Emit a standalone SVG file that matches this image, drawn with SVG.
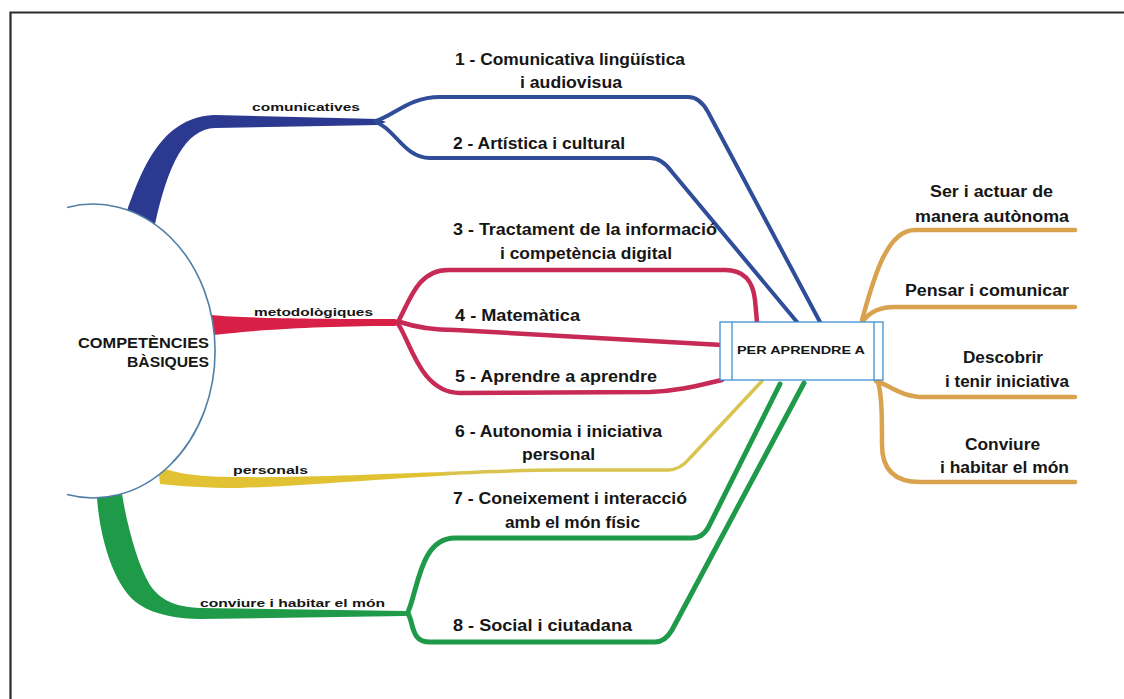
<svg xmlns="http://www.w3.org/2000/svg" width="1124" height="699" viewBox="0 0 1124 699">
<style>
text{font-family:"Liberation Sans",Arial,sans-serif;font-weight:bold;fill:#161616}
.leaf{font-size:16px}
.lab{font-size:11.5px}
.ln{fill:none;stroke-linecap:round;stroke-linejoin:round}
.blue{stroke:#2f4d98;stroke-width:4}
.red{stroke:#c62a55;stroke-width:4.5}
.yel{stroke:#d8c44e;stroke-width:3.5}
.grn{stroke:#1f9a4b;stroke-width:5}
.org{stroke:#d9a24f;stroke-width:4.5}
</style>
<rect width="1124" height="699" fill="#ffffff"/>
<path d="M10.5,699 V12.5 H1124" fill="none" stroke="#2a2a2a" stroke-width="2.2"/>

<g id="connectors">
  <!-- trunks -->
  <path d="M127,211 C145,160 165,117 215,115 L378,119 L386,122 L378,125 L215,128 C185,129 168,165 155,224 Z" fill="#2b3990"/>
  <path d="M212,315 C240,318 300,319 395,319 L403,322 L395,326 C300,326 240,332 212,335 Z" fill="#d81f45"/>
  <path d="M158,466 C175,474 200,477 240,477 C300,478 380,474 450,471.8 L450,475.2 C380,479 300,486 240,488 C205,488 180,486 160,484 Z" fill="#e0c232"/>
  <path d="M97,498 C100,540 115,590 140,605 C155,615 180,619 200,619 L405,616 L412,614 L405,611 L200,608 C175,607 160,600 150,585 C138,565 128,530 122,494 Z" fill="#1e9a48"/>
  <!-- blue branches -->
  <path class="ln blue" d="M376,121 C396,114 410,97 440,97 L688,97 Q700,97 708,112 L820,322"/>
  <path class="ln blue" d="M378,123 C395,130 405,158 430,158 L650,158 Q662,158 672,172 L797,322"/>
  <!-- red branches -->
  <path class="ln red" d="M398,322 C410,300 418,270 448,270 L725,270 C745,270 753,282 755,300 L757,322"/>
  <path class="ln red" d="M400,322 C415,327 430,330 455,330 L722,345"/>
  <path class="ln red" d="M398,324 C410,340 420,393 460,393 L650,392 C680,391 700,385 722,380"/>
  <!-- yellow -->
  <path class="ln yel" d="M445,473.5 C480,472 520,470 560,470 L668,470 Q680,470 690,458 L762,381"/>
  <!-- green branches -->
  <path class="ln grn" d="M408,612 C418,590 420,538 455,538 L692,538 Q702,538 708,528 L780,384"/>
  <path class="ln grn" d="M408,614 C414,622 410,642 430,642 L655,642 Q665,642 672,630 L804,383"/>
  <!-- orange -->
  <path class="ln org" d="M862,320 C872,285 885,230 915,230 L1075,230"/>
  <path class="ln org" d="M864,320 C870,312 880,307 895,307 L1075,307"/>
  <path class="ln org" d="M876,381 C890,385 900,397 925,397 L1075,397"/>
  <path class="ln org" d="M878,382 C882,395 882,420 882,445 C882,470 895,482 920,482 L1075,482"/>
</g>

<g id="node-center">
  <path d="M67,207.4 A122,147 0 1,1 67,494.6" fill="#ffffff" stroke="#4f7fa6" stroke-width="1.6"/>
  <text x="209" y="348" font-size="14.5" text-anchor="end" textLength="131" lengthAdjust="spacingAndGlyphs">COMPETÈNCIES</text>
  <text x="209" y="367" font-size="14.5" text-anchor="end" textLength="82" lengthAdjust="spacingAndGlyphs">BÀSIQUES</text>
</g>

<g id="node-per-aprendre">
  <rect x="720" y="322" width="163" height="58" fill="#ffffff" stroke="#3d8fd1" stroke-width="1.3"/>
  <line x1="732" y1="322" x2="732" y2="380" stroke="#3d8fd1" stroke-width="1.3"/>
  <line x1="874" y1="322" x2="874" y2="380" stroke="#3d8fd1" stroke-width="1.3"/>
  <text class="lab" x="737" y="354" textLength="128" lengthAdjust="spacingAndGlyphs">PER APRENDRE A</text>
</g>

<g id="label-comunicatives"><text class="lab" x="252" y="111" textLength="108" lengthAdjust="spacingAndGlyphs">comunicatives</text></g>
<g id="label-metodologiques"><text class="lab" x="254" y="316" textLength="119" lengthAdjust="spacingAndGlyphs">metodològiques</text></g>
<g id="label-personals"><text class="lab" x="233" y="474" textLength="75" lengthAdjust="spacingAndGlyphs">personals</text></g>
<g id="label-conviure"><text class="lab" x="200" y="607" textLength="185" lengthAdjust="spacingAndGlyphs">conviure i habitar el món</text></g>

<g id="node-1">
  <text class="leaf" x="455" y="65" textLength="230" lengthAdjust="spacingAndGlyphs">1 - Comunicativa lingüística</text>
  <text class="leaf" x="520" y="88" textLength="102" lengthAdjust="spacingAndGlyphs">i audiovisua</text>
</g>
<g id="node-2"><text class="leaf" x="453" y="149" textLength="172" lengthAdjust="spacingAndGlyphs">2 - Artística i cultural</text></g>
<g id="node-3">
  <text class="leaf" x="453" y="235" textLength="264" lengthAdjust="spacingAndGlyphs">3 - Tractament de la informació</text>
  <text class="leaf" x="500" y="259" textLength="172" lengthAdjust="spacingAndGlyphs">i competència digital</text>
</g>
<g id="node-4"><text class="leaf" x="455" y="321" textLength="125" lengthAdjust="spacingAndGlyphs">4 - Matemàtica</text></g>
<g id="node-5"><text class="leaf" x="455" y="382" textLength="202" lengthAdjust="spacingAndGlyphs">5 - Aprendre a aprendre</text></g>
<g id="node-6">
  <text class="leaf" x="455" y="437" textLength="207" lengthAdjust="spacingAndGlyphs">6 - Autonomia i iniciativa</text>
  <text class="leaf" x="522" y="460" textLength="73" lengthAdjust="spacingAndGlyphs">personal</text>
</g>
<g id="node-7">
  <text class="leaf" x="453" y="504" textLength="234" lengthAdjust="spacingAndGlyphs">7 - Coneixement i interacció</text>
  <text class="leaf" x="505" y="528" textLength="135" lengthAdjust="spacingAndGlyphs">amb el món físic</text>
</g>
<g id="node-8"><text class="leaf" x="453" y="631" textLength="179" lengthAdjust="spacingAndGlyphs">8 - Social i ciutadana</text></g>

<g id="node-ser">
  <text class="leaf" x="930" y="197" textLength="123" lengthAdjust="spacingAndGlyphs">Ser i actuar de</text>
  <text class="leaf" x="915" y="222" textLength="154" lengthAdjust="spacingAndGlyphs">manera autònoma</text>
</g>
<g id="node-pensar"><text class="leaf" x="905" y="296" textLength="164" lengthAdjust="spacingAndGlyphs">Pensar i comunicar</text></g>
<g id="node-descobrir">
  <text class="leaf" x="963" y="363" textLength="80" lengthAdjust="spacingAndGlyphs">Descobrir</text>
  <text class="leaf" x="945" y="387" textLength="124" lengthAdjust="spacingAndGlyphs">i tenir iniciativa</text>
</g>
<g id="node-conviure">
  <text class="leaf" x="965" y="450" textLength="75" lengthAdjust="spacingAndGlyphs">Conviure</text>
  <text class="leaf" x="940" y="473" textLength="129" lengthAdjust="spacingAndGlyphs">i habitar el món</text>
</g>
</svg>
